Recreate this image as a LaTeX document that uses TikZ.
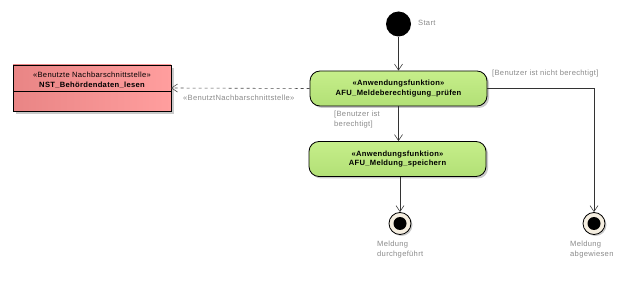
\documentclass[tikz,border=0pt]{standalone}
\usepackage{fontspec}
\setmainfont{Liberation Sans}
\usetikzlibrary{arrows.meta,shadows}
\definecolor{actfill}{HTML}{C6EE8A}
\definecolor{actfillB}{HTML}{B2E076}
\definecolor{redL}{HTML}{E98585}
\definecolor{redR}{HTML}{FF9E9E}
\definecolor{lbl}{HTML}{8A8A8A}
\definecolor{finfill}{HTML}{F5EEE0}
\newcommand{\smallf}{\fontsize{7.6}{9.5}\selectfont\addfontfeature{LetterSpace=4}}
\tikzset{
  act/.style={draw=black, line width=0.8pt, rounded corners=10pt, minimum width=177pt, minimum height=35pt,
    top color=actfill, bottom color=actfillB, align=center, font=\smallf\bfseries, inner sep=1pt,
    drop shadow={shadow xshift=2pt, shadow yshift=-2pt, fill=black!35, opacity=0.6}},
  lab/.style={text=lbl, font=\smallf, align=left, inner sep=0pt},
  flow/.style={draw=black!80, line width=0.6pt, -{Straight Barb[length=6pt,width=8pt]}},
  initst/.style={circle, fill=black, minimum size=25pt, inner sep=0pt},
  finst/.style={circle, draw=black, line width=0.8pt, fill=finfill, minimum size=22pt, inner sep=0pt,
    drop shadow={shadow xshift=1.5pt, shadow yshift=-1.5pt, fill=black!35, opacity=0.6}},
  dot/.style={circle, fill=black, minimum size=13pt, inner sep=0pt},
}
\begin{document}
\begin{tikzpicture}[x=1pt,y=-1pt]
\useasboundingbox (0,0) rectangle (627,286);
% interface box
\fill[black!35, opacity=0.6] (16,68) rectangle (174,114);
\shade[left color=redL, right color=redR] (13,65) rectangle (171,111);
\draw[line width=0.8pt] (13,65) rectangle (171,111);
\draw[line width=0.8pt] (13,91) -- (171,91);
\node (ifs) at (92,75) [font=\smallf, inner sep=0pt] {«Benutzte Nachbarschnittstelle»};
\node (ifn) at (92,85) [font=\smallf\bfseries, inner sep=0pt] {NST\_Behördendaten\_lesen};
\coordinate (ifR) at (171,88);
% start
\node[initst] (start) at (398.5,24) {};
\node[lab, anchor=west] (startl) at (418,23) {Start};
% actions
\node[act] (a1) at (398.5,88.5) {«Anwendungsfunktion»\\AFU\_Meldeberechtigung\_prüfen};
\node[act] (a2) at (397.5,159) {«Anwendungsfunktion»\\AFU\_Meldung\_speichern};
% finals
\node[finst] (f1) at (400,223.5) {};
\node[dot] at (f1) {};
\node[finst] (f2) at (594,223.5) {};
\node[dot] at (f2) {};
\node[lab, anchor=north west] (f1l) at (377,241) {Meldung\\durchgeführt};
\node[lab, anchor=north west] (f2l) at (570,241) {Meldung\\abgewiesen};
% flows
\draw[flow] (start) -- (a1.north -| start);
\draw[flow] (a1.south -| start) -- (a2.north -| start);
\draw[flow] (a2.south -| f1) -- (f1);
\coordinate (corner) at (f2 |- a1.east);
\draw[flow] (a1.east) -- (corner) -- (f2);
\draw[draw=black!70, line width=0.6pt, dashed, -{Straight Barb[length=6pt,width=8pt]}] (a1.west) -- (ifR);
% labels
\node[lab, anchor=west] (l1) at (183,97.5) {«BenutztNachbarschnittstelle»};
\node[lab, anchor=west] (l2) at (492,73.5) {[Benutzer ist nicht berechtigt]};
\node[lab, anchor=north west] (l3) at (334,111) {[Benutzer ist\\berechtigt]};
\end{tikzpicture}
\end{document}
